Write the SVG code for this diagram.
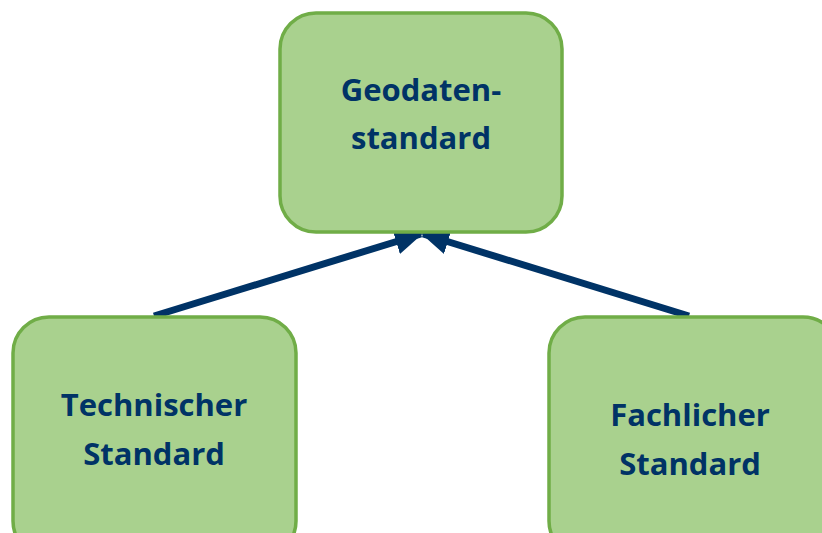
<svg xmlns="http://www.w3.org/2000/svg" width="822" height="533" viewBox="0 0 822 533">
  <style>
    .box { fill: #A9D18E; stroke: #70AD47; stroke-width: 3.5; }
    .label { font-family: "Open Sans", Lato, "Liberation Sans", sans-serif; font-weight: bold; font-size: 31px; fill: #003366; text-anchor: middle; }
    .link { stroke: #003366; stroke-width: 7; fill: none; marker-end: url(#head); }
  </style>
  <defs>
    <marker id="head" markerUnits="userSpaceOnUse" markerWidth="28" markerHeight="28" viewBox="0 0 28 28" refX="26" refY="14" orient="auto">
      <path d="M0,1 L28,14 L0,27 Z" fill="#003366"/>
    </marker>
  </defs>
  <rect width="822" height="533" fill="#FFFFFF"/>

  <g id="connectors">
    <line class="link" x1="154" y1="316" x2="421" y2="234"/>
    <line class="link" x1="689" y1="316" x2="423" y2="234"/>
  </g>

  <g id="geodatenstandard">
    <rect class="box" x="280" y="13" width="282" height="219" rx="36" ry="36"/>
    <text class="label" x="421" y="101">Geodaten-</text>
    <text class="label" x="421" y="149">standard</text>
  </g>

  <g id="technischer-standard">
    <rect class="box" x="13" y="317" width="283" height="240" rx="36" ry="36"/>
    <text class="label" x="154" y="416">Technischer</text>
    <text class="label" x="154" y="465">Standard</text>
  </g>

  <g id="fachlicher-standard">
    <rect class="box" x="549" y="317" width="290" height="240" rx="36" ry="36"/>
    <text class="label" x="690" y="426">Fachlicher</text>
    <text class="label" x="690" y="475">Standard</text>
  </g>
</svg>
